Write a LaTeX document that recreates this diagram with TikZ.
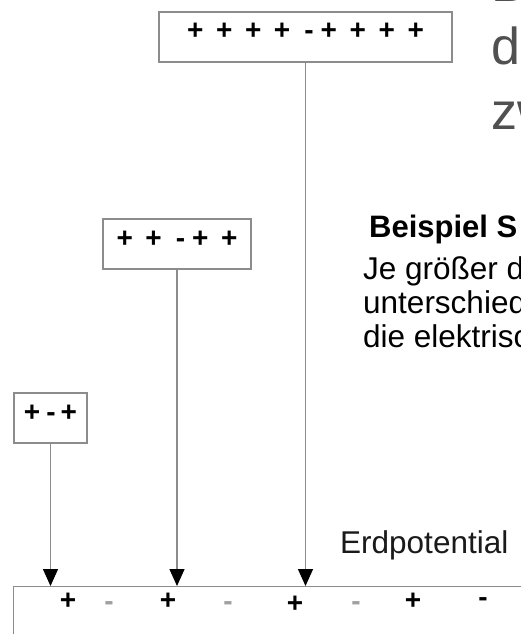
\documentclass[tikz,border=0pt]{standalone}
\usepackage{fontspec}
\setmainfont{Liberation Sans}
\usetikzlibrary{arrows.meta}
\definecolor{boxgray}{HTML}{8C8C8C}
\definecolor{titlegray}{HTML}{505050}
\definecolor{minusgray}{HTML}{A0A0A0}
\definecolor{textdark}{HTML}{1A1A1A}
\begin{document}
\begin{tikzpicture}[x=1pt,y=-1pt,
  chargebox/.style={draw=boxgray, line width=1.4pt, inner sep=0pt,
    font=\bfseries\fontsize{28}{32}\selectfont, text height=0.6em, text depth=0pt},
  groundbox/.style={draw=boxgray, line width=1.4pt, inner sep=0pt, anchor=north west},
  stem/.style={draw=boxgray, line width=1.4pt, -{Triangle[width=15pt,length=17pt,color=black]}},
  charge/.style={inner sep=0pt, font=\bfseries\fontsize{28}{32}\selectfont, text height=0.6em, text depth=0pt},
  pluscharge/.style={charge, text=black},
  minuscharge/.style={charge, text=minusgray},
  title/.style={anchor=base west, inner sep=0pt, text=titlegray, font=\fontsize{52}{60}\selectfont},
  body/.style={anchor=base west, inner sep=0pt, text=black, font=\fontsize{31.5}{36}\selectfont},
  bodybold/.style={body, font=\bfseries\fontsize{31}{36}\selectfont},
  label/.style={anchor=base west, inner sep=0pt, text=textdark, font=\fontsize{31.5}{36}\selectfont}
]
\useasboundingbox (0,0) rectangle (521,634);
\clip (0,0) rectangle (521,634);
\fill[white] (0,0) rectangle (521,634);

% charge boxes
\node[chargebox, minimum width=293pt, minimum height=50pt] (big) at (305.5,37)
  {+\hspace{12.6pt}+\hspace{12.6pt}+\hspace{12.6pt}+\hspace{14pt}-\kern7pt+\hspace{12.6pt}+\hspace{12.6pt}+\hspace{12.6pt}+};
\node[chargebox, minimum width=148pt, minimum height=50pt] (mid) at (177,244)
  {+\hspace{12.6pt}+\hspace{14pt}-\kern7pt+\hspace{12.6pt}+};
\node[chargebox, minimum width=73pt, minimum height=50pt] (small) at (50.5,418)
  {+\kern6pt-\kern5pt+};

% ground (earth potential) strip
\node[groundbox, minimum width=600pt, minimum height=90pt] (ground) at (13,586) {};

% connectors
\draw[stem] (small.south) -- (small.south |- ground.north);
\draw[stem] (mid.south) -- (mid.south |- ground.north);
\draw[stem] (big.south) -- (big.south |- ground.north);

% charges on the ground
\node[pluscharge] (g1) at (68,606) {+};
\node[minuscharge] (g2) at (109,607) {-};
\node[pluscharge] (g3) at (168,606) {+};
\node[minuscharge] (g4) at (228,607) {-};
\node[pluscharge] (g5) at (295,609) {+};
\node[minuscharge] (g6) at (356,607) {-};
\node[pluscharge] (g7) at (413,606) {+};
\node[pluscharge] (g8) at (483,603) {-};

\node[label] (erd) at (340,553) {Erdpotential};

% big gray title (cut by the picture edge)
\node[title] (t1) at (491,2) {B};
\node[title] (t2) at (491,65) {d};
\node[title] (t3) at (491,129) {zw};

% example text (cut by the picture edge)
\node[bodybold] (b0) at (369,237) {Beispiel S};
\node[body] (b1) at (363,279) {Je größer d};
\node[body] (b2) at (363,313) {unterschied};
\node[body] (b3) at (363,347) {die elektrisc};
\end{tikzpicture}
\end{document}
